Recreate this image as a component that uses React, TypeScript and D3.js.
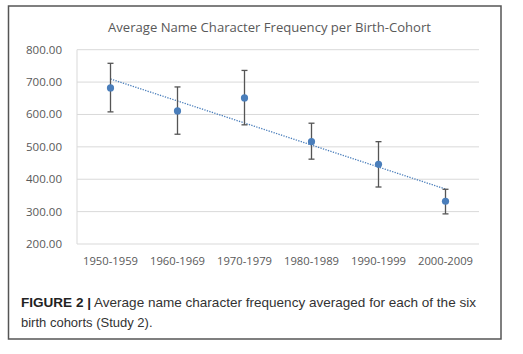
import React from 'react';
import * as d3 from 'd3';

const cohorts = ['1950-1959', '1960-1969', '1970-1979', '1980-1989', '1990-1999', '2000-2009'];
const means = [682, 611, 651, 516, 446, 332];
const upper = [758, 685, 736, 573, 516, 369];
const lower = [608, 539, 568, 462, 376, 293];
const yTicks = [200, 300, 400, 500, 600, 700, 800];

const W = 523;
const H = 354;
const chartFont = '"Open Sans", "Liberation Sans", sans-serif';
const capFont = '"Liberation Sans", Arial, sans-serif';

const App = () => {
    const x = d3.scaleBand().domain(cohorts).range([77, 479]);
    const y = d3.scaleLinear().domain([200, 800]).range([244, 49.7]);

    // linear trendline (least squares over category index)
    const idx = means.map((_, i) => i);
    const mx = d3.mean(idx);
    const my = d3.mean(means);
    const slope = d3.sum(idx, i => (i - mx) * (means[i] - my)) / d3.sum(idx, i => (i - mx) ** 2);
    const icpt = my - slope * mx;
    const cx = c => x(c) + x.bandwidth() / 2;
    const trend = d3.line()
        .x(d => cx(cohorts[d]))
        .y(d => y(icpt + slope * d));

    return (
        <svg width={W} height={H} style={{ position: 'absolute', left: 0, top: 0 }}>
            <rect x={0} y={0} width={W} height={H} fill="#fff" />
            <rect x={8.5} y={6} width={492.5} height={333} fill="none" stroke="#555" strokeWidth={1.5} />
            <text x={269.5} y={32} textAnchor="middle" fontFamily={chartFont} fontSize={13.5}
                fill="#595959" textLength={323} lengthAdjust="spacingAndGlyphs">
                Average Name Character Frequency per Birth-Cohort
            </text>
            {yTicks.map(t => (
                <g key={t}>
                    <line x1={77} x2={479} y1={y(t)} y2={y(t)} stroke="#d9d9d9" strokeWidth={1} />
                    <text x={62} y={y(t) + 4} textAnchor="end" fontFamily={chartFont} fontSize={11.5}
                        fill="#595959" textLength={36} lengthAdjust="spacingAndGlyphs">
                        {t.toFixed(2)}
                    </text>
                </g>
            ))}
            <line x1={77} x2={77} y1={y(800)} y2={y(200)} stroke="#d9d9d9" strokeWidth={1} />
            {cohorts.map(c => (
                <text key={c} x={cx(c)} y={265} textAnchor="middle" fontFamily={chartFont} fontSize={11.5}
                    fill="#595959" textLength={55} lengthAdjust="spacingAndGlyphs">
                    {c}
                </text>
            ))}
            <path d={trend(idx)} fill="none" stroke="#4a7ebb" strokeWidth={1.3} strokeDasharray="1.3 1.3" />
            {cohorts.map((c, i) => (
                <g key={c} stroke="#555" strokeWidth={1.3}>
                    <line x1={cx(c)} x2={cx(c)} y1={y(upper[i])} y2={y(lower[i])} />
                    <line x1={cx(c) - 3} x2={cx(c) + 3} y1={y(upper[i])} y2={y(upper[i])} />
                    <line x1={cx(c) - 3} x2={cx(c) + 3} y1={y(lower[i])} y2={y(lower[i])} />
                </g>
            ))}
            {cohorts.map((c, i) => (
                <circle key={c} cx={cx(c)} cy={y(means[i])} r={3.6} fill="#4a7ebb" />
            ))}
            <text x={21} y={306.5} fontFamily={capFont} fontSize={13} fill="#333" textLength={455}
                lengthAdjust="spacingAndGlyphs">
                <tspan fontWeight="bold" fill="#222">FIGURE 2 |</tspan> Average name character frequency averaged for each of the six
            </text>
            <text x={21} y={326.5} fontFamily={capFont} fontSize={13} fill="#333">
                birth cohorts (Study 2).
            </text>
        </svg>
    );
};

export default App;
